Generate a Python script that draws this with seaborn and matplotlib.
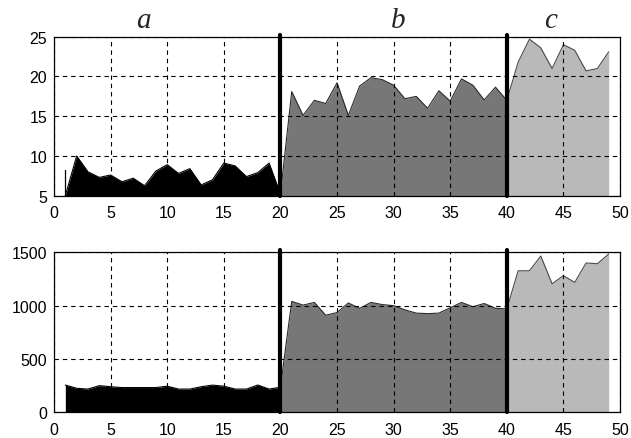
import numpy as np
import pandas as pd
import matplotlib
matplotlib.use("Agg")
import matplotlib.pyplot as plt
import matplotlib.transforms as mtransforms
import seaborn as sns

# ---------------- data ----------------
x_a = list(range(1, 21))
x_b = list(range(20, 41))
x_c = list(range(40, 50))

top_a = [5.0, 10.0, 8.0, 7.3, 7.6, 6.75, 7.2, 6.25, 8.1, 8.9,
         7.8, 8.4, 6.35, 7.0, 9.1, 8.75, 7.4, 7.9, 9.1, 5.2]
top_a_edge = 8.2          # thin vertical stroke at the first sample
top_b = [5.2, 18.1, 15.1, 17.0, 16.6, 19.2, 15.1, 18.8, 19.85, 19.6,
         18.9, 17.2, 17.5, 16.0, 18.2, 16.9, 19.7, 18.9, 17.05, 18.65, 17.0]
top_c = [17.0, 21.8, 24.7, 23.6, 21.0, 24.0, 23.3, 20.7, 21.0, 23.1]

bot_a = [256, 225, 218, 250, 240, 232, 232, 232, 232, 245,
         218, 218, 240, 255, 245, 218, 218, 256, 218, 235]
bot_b = [235, 1040, 1005, 1030, 910, 935, 1025, 975, 1030, 1010,
         1000, 960, 930, 925, 930, 980, 1030, 990, 1020, 975, 970]
bot_c = [970, 1327, 1327, 1465, 1205, 1281, 1218, 1400, 1393, 1484]

segment_labels = ["a", "b", "c"]
label_x = [7.9, 30.4, 43.9]
boundaries = [20, 40]

x_ticks = list(range(0, 51, 5))
top_yticks = [5, 10, 15, 20, 25]
bot_yticks = [0, 500, 1000, 1500]

fill_colors = ["#000000", "#777777", "#b9b9b9"]
edge_colors = ["#000000", "#2a2a2a", "#4a4a4a"]

# ---------------- figure ----------------
sns.set_style("white")
plt.rcParams["font.family"] = ["Liberation Sans", "DejaVu Sans"]

fig = plt.figure(figsize=(6.31, 4.39), dpi=100)
ax_top = fig.add_axes([0.0856, 0.552, 0.897, 0.362])
ax_bot = fig.add_axes([0.0856, 0.0585, 0.897, 0.3645])

panels = [
    (ax_top, [top_a, top_b, top_c], (5, 25), top_yticks),
    (ax_bot, [bot_a, bot_b, bot_c], (0, 1500), bot_yticks),
]
xs = [x_a, x_b, x_c]

for ax, series, ylim, yticks in panels:
    for xv, yv, fc, ec in zip(xs, series, fill_colors, edge_colors):
        df = pd.DataFrame({"x": xv, "y": yv})
        ax.fill_between(df["x"], 0, df["y"], color=fc, lw=0, zorder=1)
        sns.lineplot(data=df, x="x", y="y", ax=ax, color=ec, lw=0.8,
                     estimator=None, sort=False, zorder=1.5)
    ax.set_xlim(0, 50)
    ax.set_ylim(*ylim)
    ax.set_xticks(x_ticks)
    ax.set_yticks(yticks)
    ax.set_xlabel("")
    ax.set_ylabel("")
    ax.set_axisbelow(False)
    ax.grid(True, color="black", linestyle=(0, (4, 3.5)), lw=0.8)
    ax.tick_params(direction="in", length=3, width=0.8, labelsize=11.5,
                   colors="black", pad=5)
    ax.tick_params(axis="x", pad=7)
    for sp in ax.spines.values():
        sp.set_color("black")
        sp.set_linewidth(0.9)
        sp.set_zorder(3)
    for b in boundaries:
        ax.axvline(b, ymin=0, ymax=1.012, color="black", lw=3.0,
                   clip_on=False, zorder=4)

# thin stroke at first sample of segment a (top panel)
ax_top.plot([x_a[0], x_a[0]], [top_a[0], top_a_edge], color="black", lw=0.9,
            zorder=2)

# segment labels
trans = mtransforms.blended_transform_factory(ax_top.transData, ax_top.transAxes)
for lab, lx in zip(segment_labels, label_x):
    ax_top.text(lx, 1.06, lab, transform=trans, ha="center", va="baseline",
                fontsize=21, fontstyle="italic",
                family=["Liberation Serif", "DejaVu Serif"])

fig.savefig("out.png", dpi=100)
